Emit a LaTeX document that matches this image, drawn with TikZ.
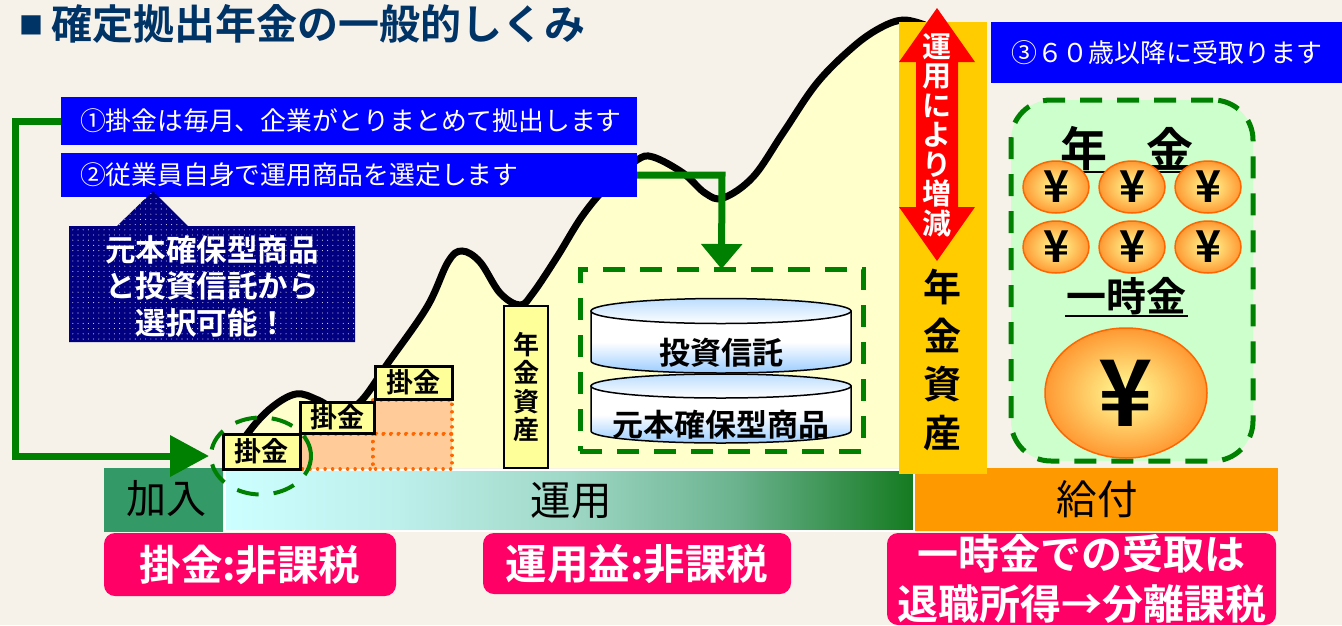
\documentclass[tikz,border=0pt]{standalone}
\usepackage{fontspec}
\setmainfont{Noto Sans CJK JP}[BoldFont={Noto Sans CJK JP Bold}]
\usetikzlibrary{arrows.meta,patterns.meta,shapes.geometric,positioning}
\definecolor{bgc}{HTML}{F6F2EA}
\definecolor{hillc}{HTML}{FFFFCC}
\definecolor{gr}{HTML}{008000}
\definecolor{pinkc}{HTML}{FF0066}
\definecolor{blu}{HTML}{0000FF}
\definecolor{navyc}{HTML}{000080}
\definecolor{titlec}{HTML}{003366}
\definecolor{yel}{HTML}{FFFF99}
\definecolor{peach}{HTML}{FFCC99}
\definecolor{orng}{HTML}{FF6600}
\definecolor{gold}{HTML}{FFCC00}
\definecolor{kyufu}{HTML}{FF9900}
\definecolor{kanyu}{HTML}{339966}
\definecolor{cyn}{HTML}{CCFFFF}
\definecolor{shb}{HTML}{BDEFEB}
\definecolor{shc}{HTML}{9FD8C6}
\definecolor{shd}{HTML}{6BB38F}
\definecolor{she}{HTML}{147A1F}
\definecolor{mint}{HTML}{CCFFCC}
\definecolor{cyl}{HTML}{99CCFF}
\definecolor{cyt}{HTML}{BBDDFF}
\definecolor{coin}{HTML}{FF9933}
\pgfdeclarehorizontalshading{unyosh}{100bp}{color(0bp)=(cyn); color(25bp)=(cyn); color(37.5bp)=(shb); color(50bp)=(shc); color(62bp)=(shd); color(75bp)=(she); color(100bp)=(she)}
\newcommand{\fs}[2]{\fontsize{#1}{#2}\selectfont}
\tikzset{
  rbox/.style={anchor=north west,inner sep=0pt,outer sep=0pt},
  bluebox/.style={rbox,fill=blu,text=white,text width=#1,align=left,inner xsep=19pt},
  pink/.style={rbox,fill=pinkc,text=white,rounded corners=11pt,font=\bfseries},
  kake/.style={rbox,fill=yel,draw=black,line width=3pt,font=\bfseries\fs{27}{27}},
  dotcell/.style={fill=peach,draw=orng,line width=3.5pt,dash pattern=on 0.01pt off 7.5pt,line cap=round},
  gline/.style={draw=gr,line width=7pt},
  gdash/.style={draw=gr,line width=5pt,dash pattern=on 22pt off 15pt},
  coinnode/.style={ellipse,inner sep=0pt,minimum width=66pt,minimum height=52pt,draw=orng,line width=1.5pt,inner color=yel,outer color=coin,font=\bfseries\fs{44}{44},text=black},
  cyltop/.style={draw=black,line width=1.5pt,top color=cyt,bottom color=white},
  cylbody/.style={draw=black,line width=1.5pt,top color=white,bottom color=cyl,middle color=white}
}
\begin{document}
\begin{tikzpicture}[x=1pt,y=-1pt]
\useasboundingbox (0,0) rectangle (1342,625);
\fill[bgc] (0,0) rectangle (1342,625);
% hill
\def\hillpts{(226,468) (248,433) (271,408) (296,394) (318,400) (342,412) (362,400) (388,363) (427,307) (448,262) (462,251) (480,262) (500,293) (520,305) (533,293) (557,257) (583,215) (610,183) (637,160) (653,157) (683,173) (705,193) (723,198) (753,177) (783,133) (817,83) (853,47) (880,28) (903,20) (925,25)}
\fill[hillc] plot[smooth,tension=0.6] coordinates {\hillpts} -- (925,468) -- cycle;
\draw[black,line width=7pt] plot[smooth,tension=0.6] coordinates {\hillpts};
% title
\node[anchor=west,inner sep=0pt,text=titlec,font=\bfseries\fs{24}{24}] (tsq) at (19,25) {■};
\node[anchor=west,inner sep=0pt,text=titlec,font=\bfseries\fs{41}{41}] (title) at (51,24) {確定拠出年金の一般的しくみ};
% bar
\node[rbox,fill=kanyu,minimum width=119pt,minimum height=64pt] (kanyu) at (104,468) {};
\node[inner sep=0pt,font=\fs{40}{40}] (kanyut) at (166,499) {加入};
\node[rbox,draw=white,line width=1.5pt,shading=unyosh,minimum width=689pt,minimum height=61pt,font=\fs{40.5}{41}] (unyo) at (225,470) {\hspace{3pt}運用};
\node[rbox,fill=kyufu,minimum width=363pt,minimum height=63pt,font=\fs{40.5}{41}] (kyufu) at (915,468) {\hspace{1pt}給付};
% pink
\node[pink,minimum width=292pt,minimum height=63pt,font=\bfseries\fs{41.5}{42}] (p1) at (104,533) {掛金:非課税};
\node[pink,minimum width=308pt,minimum height=61pt,font=\bfseries\fs{41.5}{42}] (p2) at (483,533) {運用益:非課税};
\node[pink,minimum width=389pt,minimum height=92pt,align=center,font=\bfseries\fs{41}{50}] (p3) at (887,533) {一時金での受取は\\退職所得→分離課税};
% dotted cells
\path[dotcell] (300,434) rectangle (373,469);
\path[dotcell] (373,400) rectangle (452,434);
\path[dotcell] (373,434) rectangle (452,469);
% kake boxes
\node[kake,minimum width=77pt,minimum height=35pt] (k1) at (223,434) {掛金};
\node[kake,minimum width=74pt,minimum height=31pt] (k2) at (300,402) {掛金};
\node[kake,minimum width=77pt,minimum height=33pt] (k3) at (375,366) {掛金};
% dashed ellipse
\node[ellipse,draw=gr,line width=4pt,dash pattern=on 22pt off 15pt,minimum width=100pt,minimum height=77pt,inner sep=0pt] (circ) at (261,456) {};
% blue boxes
\node[bluebox=538pt,minimum height=48pt,font=\fs{25.8}{26}] (b1) at (61,97) {①掛金は毎月、企業がとりまとめて拠出します};
\node[bluebox=538pt,minimum height=44pt,font=\fs{25.8}{26}] (b2) at (61,153) {②従業員自身で運用商品を選定します};
\node[rbox,fill=blu,text=white,minimum width=351pt,minimum height=61pt,font=\fs{25.9}{26}] (b3) at (991,22) {③６０歳以降に受取ります\hspace{3pt}};
% callout
\fill[navyc] (69,226) -- (117,226) -- (153,191) -- (188,226) -- (355,226) -- (355,342) -- (69,342) -- cycle;
\fill[pattern={Dots[distance=5.2pt,radius=0.55pt]},pattern color=white!85!navyc] (69,226) -- (117,226) -- (153,191) -- (188,226) -- (355,226) -- (355,342) -- (69,342) -- cycle;
\node[inner sep=0pt,text=white,align=center,font=\bfseries\fs{30.5}{36.5}] (call) at (212,286) {元本確保型商品\\と投資信託から\\選択可能！};
% small pension box
\node[rbox,fill=yel,draw=black,line width=2pt,minimum width=44pt,minimum height=162pt] (ybox) at (504,306) {};
\node[inner sep=0pt,align=center,font=\bfseries\fs{26}{28.5}] (ytext) at (526,387) {年\\金\\資\\産};
% cylinders
\path[cylbody] (591,386) -- (591,431) arc[start angle=180,end angle=360,x radius=130pt,y radius=12pt] -- (851,386) -- cycle;
\draw[cyltop] (721,386) ellipse[x radius=130pt,y radius=12pt];
\node[inner sep=0pt,font=\bfseries\fs{31}{31}] (c2) at (721,425) {元本確保型商品};
\path[cylbody] (591,311) -- (591,361) arc[start angle=180,end angle=360,x radius=130pt,y radius=12pt] -- (851,311) -- cycle;
\draw[cyltop] (721,311) ellipse[x radius=130pt,y radius=12.5pt];
\node[inner sep=0pt,font=\bfseries\fs{31}{31}] (c1) at (721,353) {投資信託};
% dashed rectangle
\node[rbox,gdash,minimum width=283pt,minimum height=182pt] (drect) at (580,269) {};
% green connectors
\draw[gline,-{Triangle[length=39pt,width=40pt]}] (b1.west) -- ++(-46,0) |- (circ.west);
\draw[gline,-{Triangle[length=25pt,width=40pt]}] (b2.east) -- ++(85,0) -- (drect.north);
% gold
\node[rbox,fill=gold,minimum width=88pt,minimum height=452pt] (gold) at (899,22) {};
\fill[red] (937,8) -- (975,62) -- (958,62) -- (958,207) -- (975,207) -- (937,261) -- (899,207) -- (916,207) -- (916,62) -- (899,62) -- cycle;
\node[inner sep=0pt,text=white,align=center,font=\bfseries\fs{29}{29.5}] (rtext) at (937,135) {運\\用\\に\\よ\\り\\増\\減};
\node[inner sep=0pt,align=center,font=\bfseries\fs{38}{48.5}] (gtext) at (942,360) {年\\金\\資\\産};
% payout panel
\node[rbox,fill=mint,gdash,rounded corners=40pt,minimum width=242pt,minimum height=361pt] (panel) at (1011,100) {};
\node[inner sep=0pt,anchor=center,font=\bfseries\fs{47}{47}] (nen) at (1084,149) {年};
\node[inner sep=0pt,anchor=center,font=\bfseries\fs{47}{47}] (kin) at (1170,149) {金};
\draw[black,line width=2pt] (1060,172) -- (1190,172);
\node[coinnode] (c11) at (1056,187) {¥};
\node[coinnode] (c12) at (1132,187) {¥};
\node[coinnode] (c13) at (1208,187) {¥};
\node[coinnode] (c21) at (1056,247) {¥};
\node[coinnode] (c22) at (1132,247) {¥};
\node[coinnode] (c23) at (1208,247) {¥};
\node[inner sep=0pt,font=\bfseries\fs{40}{40}] (ichi) at (1126,296) {一時金};
\draw[black,line width=2pt] (1065,316) -- (1188,316);
\node[coinnode,minimum width=162pt,minimum height=130pt,font=\bfseries\fs{92}{92}] (big) at (1126,393) {¥};
\end{tikzpicture}
\end{document}
